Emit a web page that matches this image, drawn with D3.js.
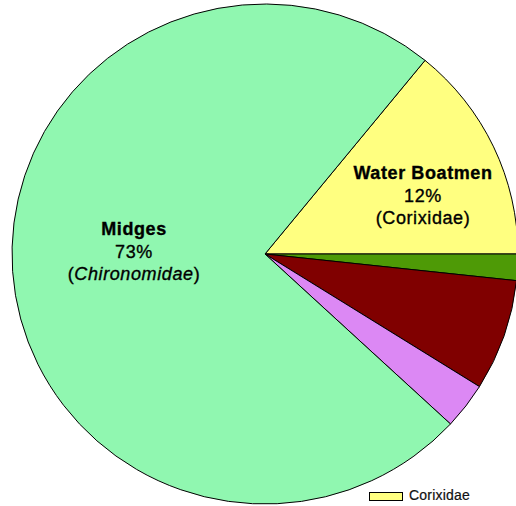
<!DOCTYPE html>
<html>
<head>
<meta charset="utf-8">
<script src="https://cdn.jsdelivr.net/npm/d3@7"></script>
<style>
  html, body { margin: 0; padding: 0; background: #fff; }
  svg { display: block; }
</style>
</head>
<body>
<svg id="chart" width="516" height="506"></svg>
<script>
// Data (slice order clockwise from the 3 o'clock line upward slice)
const categories = ["Water Boatmen", "Other A", "Other B", "Other C", "Midges"];
const values = [14.1, 1.7, 7.2, 3.0, 74.0];
const colors = ["#FFFF80", "#4E9A06", "#800000", "#DC88F4", "#90F7B0"];
const legendLabels = ["Corixidae"];

const svg = d3.select("#chart");
const cx = 265, cy = 254, rx = 253, ry = 250;

const total = d3.sum(values);
const wbAngle = 2 * Math.PI * values[0] / total;
const pie = d3.pie().sort(null).value(d => d)
  .startAngle(Math.PI / 2 - wbAngle)
  .endAngle(Math.PI / 2 - wbAngle + 2 * Math.PI);
const arcs = pie(values);

const arc = d3.arc().innerRadius(0).outerRadius(rx);

const g = svg.append("g")
  .attr("transform", `translate(${cx},${cy}) scale(1,${ry / rx})`);

g.selectAll("path")
  .data(arcs)
  .join("path")
  .attr("d", arc)
  .attr("fill", (d, i) => colors[i])
  .attr("stroke", "#000")
  .attr("stroke-width", 1)
  .attr("stroke-linejoin", "round");

// Labels
const font = "'Liberation Sans', Arial, sans-serif";
function label(x, y, lines) {
  const t = svg.append("text")
    .attr("x", x).attr("y", y)
    .attr("text-anchor", "middle")
    .attr("font-family", font)
    .attr("font-size", 18)
    .attr("letter-spacing", 0.6)
    .attr("fill", "#000")
    .attr("stroke", "#000")
    .attr("stroke-width", 0.35);
  lines.forEach((ln, i) => {
    const ts = t.append("tspan").attr("x", x).attr("dy", i === 0 ? 0 : 22.5);
    ln.forEach(part => {
      ts.append("tspan")
        .attr("font-weight", part.b ? "bold" : "normal")
        .attr("font-style", part.it ? "italic" : "normal")
        .text(part.t);
    });
  });
}
label(134, 235, [
  [{ t: "Midges", b: true }],
  [{ t: "73%" }],
  [{ t: "(" }, { t: "Chironomidae", it: true }, { t: ")" }]
]);
label(423, 179, [
  [{ t: "Water Boatmen", b: true }],
  [{ t: "12%" }],
  [{ t: "(Corixidae)" }]
]);

// Legend (partially visible)
const lg = svg.append("g");
lg.append("rect")
  .attr("x", 369.5).attr("y", 492.5).attr("width", 33).attr("height", 8)
  .attr("fill", colors[0]).attr("stroke", "#000").attr("stroke-width", 1);
lg.append("text")
  .attr("x", 409).attr("y", 500)
  .attr("font-family", font).attr("font-size", 14)
  .attr("letter-spacing", 0.2)
  .attr("fill", "#111")
  .attr("stroke", "#111").attr("stroke-width", 0.2)
  .text(legendLabels[0]);
</script>
</body>
</html>
